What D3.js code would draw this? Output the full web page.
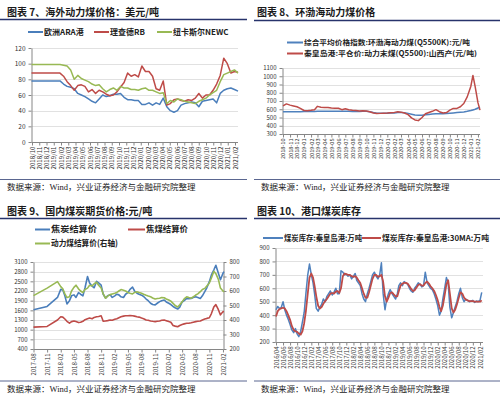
<!DOCTYPE html>
<html>
<head>
<meta charset="utf-8">
<script src="https://cdn.jsdelivr.net/npm/d3@7"></script>
<style>
body { margin: 0; background: #fff; }
text { font-family: "Noto Sans CJK SC", "Liberation Sans", sans-serif; }
.title { font-size: 10px; font-weight: bold; fill: #1a1a1a; }
.src { font-size: 8.5px; fill: #222; font-family: "Liberation Serif", "Noto Sans CJK SC", serif; }
.leg { font-weight: bold; fill: #222; }
.tick text { fill: #333; }
</style>
</head>
<body>
<script>
// ---- panel 1: overseas thermal coal (USD/t), half-month samples from 2018/10
var months1 = ["2018/10","2018/11","2018/12","2019/01","2019/02","2019/03","2019/04","2019/05","2019/06","2019/07","2019/08","2019/09","2019/10","2019/11","2019/12","2020/01","2020/02","2020/03","2020/04","2020/05","2020/06","2020/07","2020/08","2020/09","2020/10","2020/11","2020/12","2021/01","2021/02"];
var ara = [78,78,78,78,78,78,78,78,78,74,71,70,68,62,60,58,55,52,50,55,60,58,59,61,61,62,57,54,54,53,53,48,48,50,47,50,48,56,45,40,38,40,47,49,50,51,50,45,52,53,54,55,50,62,66,68,69,67,65];
var rb = [88,88,88,88,88,88,88,88,88,84,77,72,66,72,73,71,64,67,62,66,64,61,59,60,64,70,76,88,84,86,83,97,90,90,84,68,66,78,47,49,54,55,53,52,54,53,56,62,56,60,60,66,74,85,107,100,88,90,89];
var newc = [99,99,99,99,99,99,99,99,99,98,97,92,80,85,81,79,77,74,72,73,68,64,67,69,66,71,69,69,67,67,66,68,69,66,66,64,62,63,49,53,51,55,54,52,51,50,49,52,54,56,60,63,66,77,86,88,90,92,88];

// ---- panel 2: Bohai-Rim thermal coal (CNY/t)
var months2 = ["2018-10","2018-11","2018-12","2019-01","2019-02","2019-03","2019-04","2019-05","2019-06","2019-07","2019-08","2019-09","2019-10","2019-11","2019-12","2020-01","2020-02","2020-03","2020-04","2020-05","2020-06","2020-07","2020-08","2020-09","2020-10","2020-11","2020-12","2021-01","2021-02"];
var dates2 = ["2018-10-01","2018-10-16","2018-11-01","2018-11-16","2018-12-01","2018-12-16","2019-01-01","2019-01-16","2019-02-01","2019-02-16","2019-03-01","2019-03-16","2019-04-01","2019-04-16","2019-05-01","2019-05-16","2019-06-01","2019-06-16","2019-07-01","2019-07-16","2019-08-01","2019-08-16","2019-09-01","2019-09-16","2019-10-01","2019-10-16","2019-11-01","2019-11-16","2019-12-01","2019-12-16","2020-01-01","2020-01-16","2020-02-01","2020-02-16","2020-03-01","2020-03-16","2020-04-01","2020-04-16","2020-05-01","2020-05-16","2020-06-01","2020-06-16","2020-07-01","2020-07-16","2020-08-01","2020-08-16","2020-09-01","2020-09-16","2020-10-01","2020-10-16","2020-11-01","2020-11-16","2020-12-01","2020-12-16","2021-01-01","2021-01-10","2021-01-20","2021-02-01","2021-02-10"];
var bsi = [571,571,571,571,571,571,572,572,573,574,575,576,577,577,577,577,576,576,575,575,574,574,574,575,575,570,560,553,551,552,553,555,556,560,562,558,550,540,530,527,528,532,537,542,546,546,546,548,552,556,560,564,568,575,585,592,600,615,625];
var qhd = [640,665,650,640,630,610,585,582,588,595,635,625,620,622,615,612,612,595,605,595,588,585,580,582,578,570,555,548,550,553,555,558,562,570,565,555,535,495,470,462,500,545,560,575,595,570,555,560,590,610,610,630,670,750,880,1010,870,680,590];

// ---- panel 3: domestic coal futures (CNY/t)
var months3 = ["2017-08","2017-11","2018-02","2018-05","2018-08","2018-11","2019-02","2019-05","2019-08","2019-11","2020-02","2020-05","2020-08","2020-11","2021-02"];
var dates3 = ["2017-08-01","2017-11-01","2018-01-10","2018-02-01","2018-02-15","2018-03-01","2018-03-15","2018-04-01","2018-04-15","2018-05-01","2018-05-15","2018-06-01","2018-06-15","2018-07-01","2018-07-15","2018-08-01","2018-08-15","2018-09-01","2018-09-15","2018-10-01","2018-10-15","2018-11-01","2018-11-15","2018-12-01","2018-12-15","2019-01-01","2019-01-15","2019-02-01","2019-02-15","2019-03-01","2019-03-15","2019-04-01","2019-04-15","2019-05-01","2019-05-15","2019-06-01","2019-06-15","2019-07-01","2019-07-15","2019-08-01","2019-08-15","2019-09-01","2019-09-15","2019-10-01","2019-10-15","2019-11-01","2019-11-15","2019-12-01","2019-12-15","2020-01-01","2020-01-15","2020-02-01","2020-02-15","2020-03-01","2020-03-15","2020-04-01","2020-04-15","2020-05-01","2020-05-15","2020-06-01","2020-06-15","2020-07-01","2020-07-15","2020-08-01","2020-08-15","2020-09-01","2020-09-15","2020-10-01","2020-10-15","2020-11-01","2020-11-15","2020-12-01","2020-12-15","2021-01-01","2021-01-15","2021-02-01","2021-02-08"];
var coke = [1620,1720,2000,2250,2230,2050,1800,1900,2050,2080,2000,2150,2100,2050,2300,2650,2450,2350,2300,2500,2450,2380,2100,1980,2050,2080,2000,2050,2100,2080,2020,2000,2100,2150,2250,2320,2200,2130,2100,2070,2030,1950,1900,1820,1780,1770,1820,1870,1900,1920,1860,1820,1780,1720,1680,1640,1700,1860,1900,1970,1960,1970,2000,2020,2000,1970,2050,2180,2300,2490,2700,2850,3000,2750,2550,2750,2800];
var cokingCoal = [1080,1100,1300,1400,1390,1330,1260,1200,1250,1270,1250,1220,1230,1260,1310,1340,1360,1340,1380,1400,1410,1430,1260,1270,1280,1300,1290,1320,1340,1370,1400,1420,1430,1430,1440,1430,1420,1400,1390,1360,1340,1300,1290,1270,1260,1250,1260,1270,1290,1300,1280,1250,1230,1130,1110,1090,1130,1160,1180,1200,1200,1215,1230,1250,1260,1270,1300,1330,1350,1370,1500,1700,1780,1620,1460,1560,1560];
var thermal = [568,620,665,630,615,580,555,560,600,625,640,615,600,590,610,620,640,635,650,660,640,620,580,550,565,575,580,585,590,600,610,605,600,590,585,580,590,595,590,585,578,570,565,560,552,545,548,550,555,553,545,538,530,515,500,490,505,525,545,560,555,550,560,572,580,595,610,618,635,655,690,735,720,680,620,600,595];

// ---- panel 4: Qinhuangdao port stock (10k t), half-month samples from 2016/04
var months4 = ["2016/04","2016/06","2016/08","2016/10","2016/12","2017/02","2017/04","2017/06","2017/08","2017/10","2017/12","2018/02","2018/04","2018/06","2018/08","2018/10","2018/12","2019/02","2019/04","2019/06","2019/08","2019/10","2019/12","2020/02","2020/04","2020/06","2020/08","2020/10","2020/12","2021/02"];
var stock = [440,465,450,455,500,440,400,370,330,290,270,300,260,240,280,350,420,560,700,780,700,640,560,450,430,460,480,520,500,540,560,580,550,570,600,560,560,730,720,700,705,690,700,670,690,710,660,640,620,560,520,500,560,600,650,700,720,690,670,700,790,560,440,520,560,590,560,540,520,560,620,640,620,650,640,630,600,580,570,600,620,640,630,610,620,720,640,620,600,590,560,520,470,400,430,520,600,680,640,460,380,420,460,500,560,600,530,500,520,510,500,505,510,495,505,500,510,570];
var stockMA = [390,430,445,450,455,450,430,400,365,320,290,280,275,262,255,280,340,430,560,680,710,680,620,540,470,450,460,485,505,520,540,560,565,560,575,580,565,600,690,710,705,700,700,690,685,690,680,660,640,600,560,530,530,570,620,670,700,700,685,690,700,650,540,500,530,565,570,555,540,540,580,620,635,640,640,635,615,595,580,585,605,625,630,620,620,640,650,635,615,600,580,550,510,460,430,470,550,630,660,560,450,420,440,480,530,570,560,530,515,510,505,505,505,500,500,500,500,510];

var blue = "#4a7ebb", red = "#be4b48", green = "#98b954";
var navy = "#27336b", axisColor = "#868686", gridColor = "#d9d9d9";
var parseDay = d3.timeParse("%Y-%m-%d");

var svg = d3.select("body").append("svg")
    .attr("width", 500)
    .attr("height", 399);

function header(x0, x1, ty, ly, tx, title) {
  svg.append("text").attr("class", "title").attr("x", tx).attr("y", ty).text(title);
  svg.append("line").attr("x1", x0).attr("x2", x1).attr("y1", ly).attr("y2", ly)
      .attr("stroke", navy).attr("stroke-width", 1.4);
}

function footer(x0, x1, ly, ty) {
  svg.append("line").attr("x1", x0).attr("x2", x1).attr("y1", ly).attr("y2", ly)
      .attr("stroke", "#5a6690").attr("stroke-width", 1);
  svg.append("text").attr("class", "src").attr("x", x0 + 7).attr("y", ty)
      .text("数据来源：Wind，兴业证券经济与金融研究院整理");
}

function legend(x1, x2, y, color, label, fs, len) {
  svg.append("line").attr("x1", x1).attr("x2", x2).attr("y1", y).attr("y2", y)
      .attr("stroke", color).attr("stroke-width", 2);
  var t = svg.append("text").attr("class", "leg").attr("x", x2 + 1).attr("y", y)
      .attr("dy", "0.35em").style("font-size", fs + "px").text(label);
  if (len) t.attr("textLength", len).attr("lengthAdjust", "spacingAndGlyphs");
}

function grid(y, ticks, x0, x1) {
  svg.append("g").selectAll("line").data(ticks.slice(1)).enter().append("line")
      .attr("x1", x0).attr("x2", x1)
      .attr("y1", function(d) { return Math.round(y(d)) + 0.5; })
      .attr("y2", function(d) { return Math.round(y(d)) + 0.5; })
      .attr("stroke", gridColor).attr("stroke-width", 0.8);
}

function yAxis(y, ticks, x, fs, right) {
  var ax = (right ? d3.axisRight(y) : d3.axisLeft(y)).tickValues(ticks)
      .tickFormat(d3.format("d"))
      .tickSize(3).tickSizeOuter(0).tickPadding(3);
  var g = svg.append("g").attr("transform", "translate(" + x + ",0)").call(ax);
  g.selectAll("path,line").attr("stroke", axisColor);
  g.selectAll("text").style("font-size", fs + "px");
}

function xAxis(x, ticks, y, x0, x1, fs, fmt) {
  var ax = d3.axisBottom(x).tickValues(ticks).tickSize(3).tickSizeOuter(0);
  if (fmt) ax.tickFormat(fmt);
  var g = svg.append("g").attr("transform", "translate(0," + y + ")").call(ax);
  g.select(".domain").remove();
  g.selectAll("line").attr("stroke", axisColor);
  g.selectAll("text")
      .attr("transform", "rotate(-90)")
      .attr("x", -4).attr("y", 0).attr("dy", "0.35em")
      .style("text-anchor", "end").style("font-size", fs + "px");
  svg.append("line").attr("x1", x0).attr("x2", x1).attr("y1", y).attr("y2", y)
      .attr("stroke", axisColor).attr("stroke-width", 1);
}

function plotLine(data, xf, yf, color, w) {
  svg.append("path").datum(data)
      .attr("fill", "none").attr("stroke", color).attr("stroke-width", w)
      .attr("stroke-linejoin", "round")
      .attr("d", d3.line().x(xf).y(yf));
}

// ================= panel 1 =================
header(0, 247, 16, 19.5, 7, "图表 7、海外动力煤价格：美元/吨");
legend(28, 43, 32, blue, "欧洲ARA港", 8);
legend(94, 109, 32, red, "理查德RB", 8);
legend(157, 172, 32, green, "纽卡斯尔NEWC", 8);

var y1 = d3.scaleLinear().domain([0, 120]).range([142, 48]);
var x1 = d3.scaleLinear().domain([0, ara.length - 1]).range([31.5, 238]);
var m1 = d3.scalePoint().domain(months1).range([32, 235]);
var ticks1 = [0, 20, 40, 60, 80, 100, 120];
grid(y1, ticks1, 32, 238);
yAxis(y1, ticks1, 31.5, 6.5);
xAxis(m1, months1, 142.5, 31.5, 238, 6.2);
plotLine(ara, function(d, i) { return x1(i); }, function(d) { return y1(d); }, blue, 1.5);
plotLine(rb, function(d, i) { return x1(i); }, function(d) { return y1(d); }, red, 1.5);
plotLine(newc, function(d, i) { return x1(i); }, function(d) { return y1(d); }, green, 1.5);
footer(0, 247, 179.5, 190);

// ================= panel 2 =================
header(254, 500, 16, 20.5, 257, "图表 8、环渤海动力煤价格");
legend(287, 303, 42.5, "#4f81bd", "综合平均价格指数:环渤海动力煤(Q5500K):元/吨", 7, 166);
legend(287, 303, 53.5, red, "秦皇岛港:平仓价:动力末煤(Q5500):山西产(元/吨)", 7, 173);

var y2 = d3.scaleLinear().domain([300, 1100]).range([134, 68]);
var x2 = d3.scaleTime().domain([parseDay("2018-10-01"), parseDay("2021-02-10")]).range([283, 480]);
var ticks2 = [300, 400, 500, 600, 700, 800, 900, 1000, 1100];
var parseM2 = d3.timeParse("%Y-%m");
grid(y2, ticks2, 282, 480);
yAxis(y2, ticks2, 282.5, 6);
xAxis(x2, months2.map(parseM2), 134.5, 282.5, 480, 5.6, d3.timeFormat("%Y-%m"));
plotLine(bsi, function(d, i) { return x2(parseDay(dates2[i])); }, function(d) { return y2(d); }, "#4f81bd", 1.5);
plotLine(qhd, function(d, i) { return x2(parseDay(dates2[i])); }, function(d) { return y2(d); }, red, 1.5);
footer(254, 500, 179.5, 190);

// ================= panel 3 =================
header(0, 247, 215, 218.5, 7, "图表 9、国内煤炭期货价格:元/吨");
legend(35, 50, 229.5, blue, "焦炭结算价", 8.5, 46);
legend(128, 145, 229.5, red, "焦煤结算价", 8.5, 42);
legend(35, 50, 243.5, green, "动力煤结算价(右轴)", 8.5, 67);

var y3 = d3.scaleLinear().domain([400, 3100]).range([349, 262]);
var y3r = d3.scaleLinear().domain([200, 800]).range([349, 262]);
var x3 = d3.scaleTime().domain([parseDay("2017-08-01"), parseDay("2021-02-08")]).range([33.5, 224]);
var ticks3 = [400, 700, 1000, 1300, 1600, 1900, 2200, 2500, 2800, 3100];
var ticks3r = [200, 300, 400, 500, 600, 700, 800];
var parseM3 = d3.timeParse("%Y-%m");
grid(y3, ticks3, 34, 223);
yAxis(y3, ticks3, 33.5, 6);
yAxis(y3r, ticks3r, 223.5, 6, true);
xAxis(x3, months3.map(parseM3), 349.5, 33.5, 223.5, 6, d3.timeFormat("%Y-%m"));
plotLine(coke, function(d, i) { return x3(parseDay(dates3[i])); }, function(d) { return y3(d); }, blue, 1.6);
plotLine(cokingCoal, function(d, i) { return x3(parseDay(dates3[i])); }, function(d) { return y3(d); }, red, 1.6);
plotLine(thermal, function(d, i) { return x3(parseDay(dates3[i])); }, function(d) { return y3r(d); }, green, 1.6);
footer(0, 247, 381, 392);

// ================= panel 4 =================
header(254, 500, 215, 218.5, 257, "图表 10、港口煤炭库存");
legend(263, 283, 238, "#4f81bd", "煤炭库存:秦皇岛港:万吨", 7.5, 78);
legend(362, 381, 238, red, "煤炭库存:秦皇岛港:30MA:万吨", 7.5, 107);

var y4 = d3.scaleLinear().domain([200, 900]).range([342, 248]);
var x4 = d3.scaleTime().domain([new Date(2016, 3, 1), new Date(2021, 1, 27)]).range([276, 483]);
var ticks4 = [200, 300, 400, 500, 600, 700, 800, 900];
var parseM4 = d3.timeParse("%Y/%m");
function halfMonth(i) { return new Date(2016, 3 + Math.floor(i / 2), i % 2 ? 16 : 1); }
grid(y4, ticks4, 275, 483);
yAxis(y4, ticks4, 275.5, 6);
xAxis(x4, months4.map(parseM4), 342.5, 275.5, 483, 6, d3.timeFormat("%Y/%m"));
plotLine(stock, function(d, i) { return x4(halfMonth(i)); }, function(d) { return y4(d); }, "#4f81bd", 1.5);
plotLine(stockMA, function(d, i) { return x4(halfMonth(i)); }, function(d) { return y4(d); }, red, 1.8);
footer(254, 500, 381, 392);
</script>
</body>
</html>
